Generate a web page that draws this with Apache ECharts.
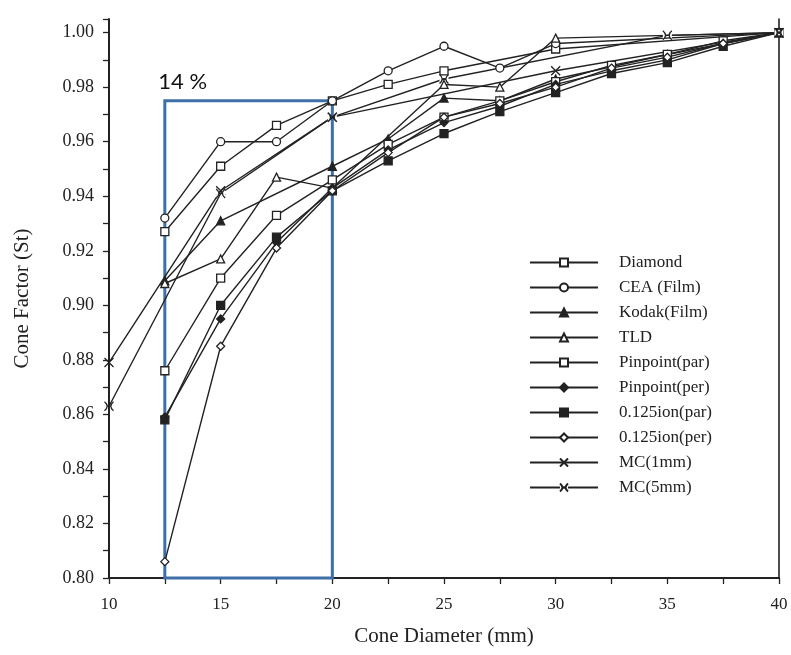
<!DOCTYPE html>
<html>
<head>
<meta charset="utf-8">
<script src="https://cdn.jsdelivr.net/npm/echarts@6/dist/echarts.min.js"></script>
<style>
  html, body { margin: 0; padding: 0; background: #fff; }
  #chart { width: 791px; height: 655px; }
</style>
</head>
<body>
<div id="chart"></div>
<script>
// Cone diameters (mm) shared by every data set; null = not measured
const diameters = [10, 12.5, 15, 17.5, 20, 22.5, 25, 27.5, 30, 32.5, 35, 37.5, 40];

const diamond      = [null, 0.927, 0.951, 0.966, 0.975, 0.981, 0.986, null, 0.994, null, null, null, 1.000];
const ceaFilm      = [null, 0.932, 0.960, 0.960, 0.975, 0.986, 0.995, 0.987, 0.996, null, null, null, 1.000];
const kodakFilm    = [null, 0.909, 0.931, null, 0.951, 0.961, 0.976, 0.975, 0.983, null, 0.992, null, 1.000];
const tld          = [null, 0.908, 0.917, 0.947, 0.943, null, 0.981, 0.980, 0.998, null, null, null, 1.000];
const pinpointPar  = [null, 0.876, 0.910, 0.933, 0.946, 0.959, 0.969, 0.975, 0.982, 0.988, 0.992, 0.997, 1.000];
const pinpointPer  = [null, 0.859, 0.895, 0.923, 0.943, 0.957, 0.967, 0.973, 0.981, 0.986, 0.990, 0.996, 1.000];
const ion125Par    = [null, 0.858, 0.900, 0.925, 0.942, 0.953, 0.963, 0.971, 0.978, 0.985, 0.989, 0.995, 1.000];
const ion125Per    = [null, 0.806, 0.885, 0.921, 0.942, 0.956, 0.969, 0.974, 0.980, 0.987, 0.991, 0.996, 1.000];
const mc1mm        = [0.879, null, 0.942, null, 0.969, null, null, null, 0.986, null, null, null, 1.000];
const mc5mm        = [0.863, null, 0.941, null, 0.969, null, 0.983, null, null, null, 0.999, null, 1.000];

// Highlighted small-cone region and its note
const boxRange = { x0: 12.5, x1: 20, yTop: 0.975, yBottom: 0.80 };
const boxNote = '14 %';

const yTicks = { min: 0.80, max: 1.00, step: 0.02 };

const ink = '#222222';
const serif = '"Liberation Serif", "DejaVu Serif", serif';

const CROSS = 'path://M0,0L10,10M10,0L0,10';
const BOWTIE = 'path://M0,0Q6,5 0,10M10,0Q4,5 10,10M3,5L7,5';

function pairs(values) {
  const out = [];
  values.forEach((v, i) => { if (v !== null) out.push([diameters[i], v]); });
  return out;
}

function makeSeries(name, values, symbol, filled) {
  return {
    name: name,
    type: 'line',
    data: pairs(values),
    symbol: symbol,
    symbolSize: symbol === CROSS || symbol === BOWTIE ? 9 : 8,
    showAllSymbol: true,
    lineStyle: { color: ink, width: 1.4 },
    itemStyle: {
      color: filled ? ink : '#ffffff',
      borderColor: ink,
      borderWidth: 1.3
    },
    emphasis: { disabled: true },
    z: 3
  };
}

const series = [
  makeSeries('Diamond', diamond, 'rect', false),
  makeSeries('CEA (Film)', ceaFilm, 'circle', false),
  makeSeries('Kodak(Film)', kodakFilm, 'triangle', true),
  makeSeries('TLD', tld, 'triangle', false),
  makeSeries('Pinpoint(par)', pinpointPar, 'rect', false),
  makeSeries('Pinpoint(per)', pinpointPer, 'diamond', true),
  makeSeries('0.125ion(par)', ion125Par, 'rect', true),
  makeSeries('0.125ion(per)', ion125Per, 'diamond', false),
  makeSeries('MC(1mm)', mc1mm, CROSS, false),
  makeSeries('MC(5mm)', mc5mm, BOWTIE, false)
];

// Outline box around the small-diameter range
series.push({
  name: 'box',
  type: 'line',
  data: [],
  silent: true,
  markArea: {
    silent: true,
    itemStyle: { color: 'rgba(0,0,0,0)', borderColor: '#3E6FA6', borderWidth: 3 },
    label: {
      show: true,
      position: [-5, -28],
      formatter: boxNote,
      color: '#111',
      fontFamily: 'Lato, "Open Sans", sans-serif',
      fontSize: 22
    },
    data: [[
      { coord: [boxRange.x0, boxRange.yTop] },
      { coord: [boxRange.x1, boxRange.yBottom] }
    ]]
  },
  z: 4
});

const chart = echarts.init(document.getElementById('chart'), null, { renderer: 'canvas' });

chart.setOption({
  backgroundColor: '#ffffff',
  animation: false,
  grid: { left: 109, right: 12, top: 19, bottom: 77, containLabel: false },
  legend: {
    orient: 'vertical',
    left: 524,
    top: 249,
    data: series.slice(0, 10).map(s => s.name),
    itemWidth: 68,
    itemHeight: 10,
    itemGap: 8,
    selectedMode: false,
    textStyle: {
      fontFamily: serif,
      fontSize: 17,
      color: ink,
      padding: [0, 0, 0, 16]
    }
  },
  xAxis: {
    type: 'value',
    min: 10,
    max: 40,
    interval: 5,
    name: 'Cone Diameter (mm)',
    nameLocation: 'middle',
    nameGap: 48,
    nameTextStyle: { fontFamily: serif, fontSize: 21, color: ink },
    axisLine: { show: true, onZero: false, lineStyle: { color: ink, width: 2 } },
    axisTick: { show: true, length: 6, lineStyle: { color: ink, width: 1.3 } },
    minorTick: { show: true, splitNumber: 2, length: 6, lineStyle: { color: ink, width: 1.3 } },
    axisLabel: { fontFamily: serif, fontSize: 17, color: ink, margin: 18 },
    splitLine: { show: false }
  },
  yAxis: [{
    type: 'value',
    min: yTicks.min,
    max: 1.005,
    interval: yTicks.step,
    name: 'Cone Factor (St)',
    nameLocation: 'middle',
    nameGap: 76,
    nameTextStyle: { fontFamily: serif, fontSize: 21, color: ink },
    axisLine: { show: true, onZero: false, lineStyle: { color: ink, width: 2 } },
    axisTick: { show: true, length: 6, lineStyle: { color: ink, width: 1.3 } },
    minorTick: { show: true, splitNumber: 2, length: 6, lineStyle: { color: ink, width: 1.3 } },
    axisLabel: {
      fontFamily: serif, fontSize: 18, color: ink, margin: 15,
      formatter: v => (v > yTicks.max + 1e-9 ? '' : v.toFixed(2))
    },
    splitLine: { show: false }
  }, {
    type: 'value',
    position: 'right',
    min: yTicks.min,
    max: 1.005,
    interval: yTicks.step,
    axisLine: { show: true, onZero: false, lineStyle: { color: ink, width: 1.6 } },
    axisTick: { show: false },
    axisLabel: { show: false },
    splitLine: { show: false }
  }],
  series: series
});
</script>
</body>
</html>
